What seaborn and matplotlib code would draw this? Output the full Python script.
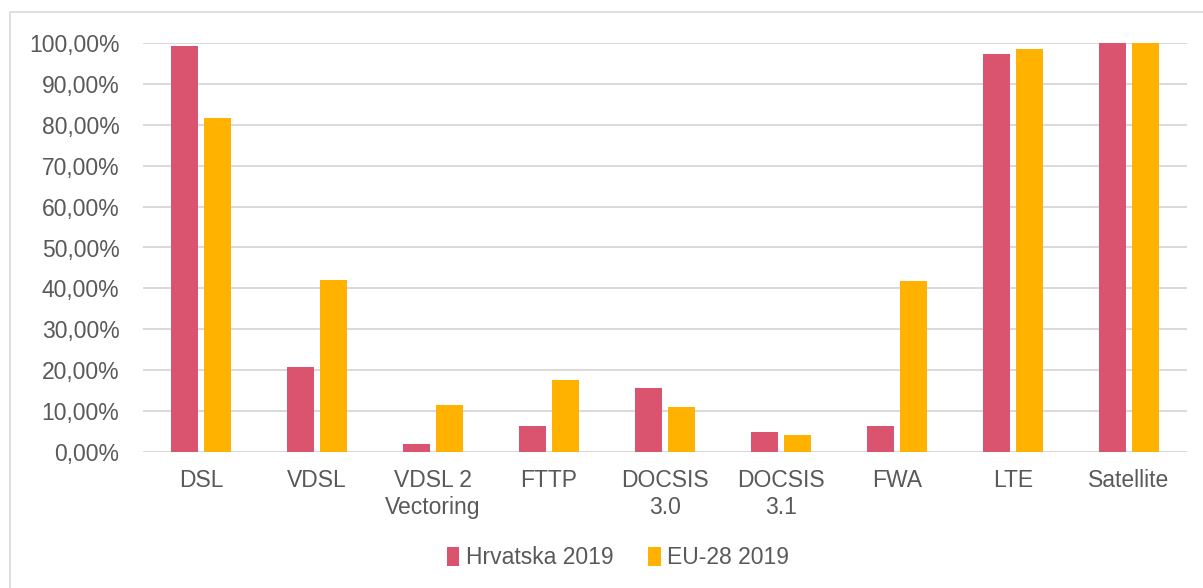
import matplotlib
matplotlib.use("Agg")
import matplotlib.pyplot as plt
import matplotlib.patches as mpatches
from matplotlib.ticker import FuncFormatter
import seaborn as sns
import pandas as pd

categories = ["DSL", "VDSL", "VDSL 2\nVectoring", "FTTP", "DOCSIS\n3.0", "DOCSIS\n3.1", "FWA", "LTE", "Satellite"]
hrvatska = [99.2, 20.9, 2.1, 6.5, 15.7, 4.9, 6.3, 97.2, 100.0]
eu28 = [81.6, 42.0, 11.5, 17.6, 11.1, 4.2, 41.9, 98.4, 100.0]
series = ["Hrvatska 2019", "EU-28 2019"]
colors = ["#DA546F", "#FFB300"]

df = pd.DataFrame({
    "cat": categories * 2,
    "val": [v / 100 for v in hrvatska] + [v / 100 for v in eu28],
    "series": [series[0]] * len(categories) + [series[1]] * len(categories),
})

sns.set_theme(style="white")
plt.rcParams["font.family"] = ["Liberation Sans", "DejaVu Sans"]
text_color = "#595959"
fs = 16.5

fig = plt.figure(figsize=(12.03, 5.88), dpi=100)
ax = fig.add_axes([143 / 1203, 1 - 452.3 / 588, (1187 - 143) / 1203, (452.3 - 42.7) / 588])

sns.barplot(data=df, x="cat", y="val", hue="series", palette=colors, width=0.57, gap=0.2,
            ax=ax, legend=True, saturation=1, edgecolor="none")

ax.set_ylim(0, 1.0)
ax.set_xlim(-0.5, len(categories) - 0.5)
ax.set_yticks([i / 10 for i in range(11)])
ax.yaxis.set_major_formatter(FuncFormatter(lambda v, p: f"{v * 100:.2f}%".replace(".", ",")))
ax.grid(axis="y", color="#D9D9D9", linewidth=1.4)
ax.set_axisbelow(True)
for s in ax.spines.values():
    s.set_visible(False)
ax.tick_params(axis="y", length=0, pad=17, labelsize=fs, labelcolor=text_color)
ax.tick_params(axis="x", length=0, pad=12, labelsize=fs, labelcolor=text_color)
for lbl in ax.get_xticklabels():
    lbl.set_linespacing(1.25)
ax.set_xlabel("")
ax.set_ylabel("")

handles, labels = ax.get_legend_handles_labels()
ax.get_legend().remove()
fig.legend(handles, labels, loc="center", bbox_to_anchor=(618 / 1203, 1 - 558 / 588), ncol=2,
           frameon=False, fontsize=fs, labelcolor=text_color, handlelength=0.55, handleheight=0.85,
           handletextpad=0.3, columnspacing=1.5)

border = mpatches.Rectangle((10 / 1203, -0.01), 1.02, 1 - 12 / 588 + 0.01, transform=fig.transFigure,
                            fill=False, edgecolor="#D9D9D9", linewidth=1.2)
fig.patches.append(border)

fig.savefig("out.png", dpi=100)
